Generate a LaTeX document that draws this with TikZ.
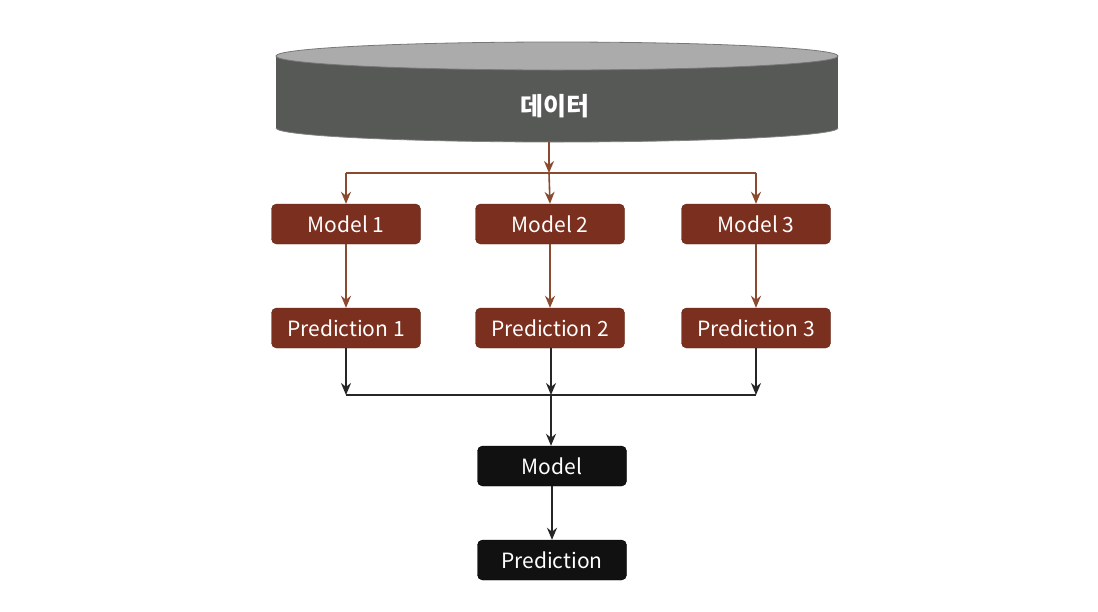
\documentclass[tikz,border=0pt]{standalone}
\usepackage{fontspec}
\setmainfont{Noto Sans CJK KR}
\usetikzlibrary{arrows.meta}
\definecolor{boxbrown}{HTML}{7B2F1E}
\definecolor{arrbrown}{HTML}{8A4A30}
\definecolor{cylside}{HTML}{575957}
\definecolor{cyltop}{HTML}{ABABAB}
\definecolor{boxblack}{HTML}{111111}
\tikzset{
  brownbox/.style={draw=boxbrown!80!black, fill=boxbrown, rounded corners=5pt, minimum width=149pt, minimum height=40pt, text=white, font=\fontsize{21}{24}\selectfont, inner sep=0pt},
  blackbox/.style={draw=black, fill=boxblack, rounded corners=5pt, minimum width=149pt, minimum height=40pt, text=white, font=\fontsize{21}{24}\selectfont, inner sep=0pt},
  brarrow/.style={draw=arrbrown, line width=1.6pt, -{Stealth[length=12pt,width=10pt]}},
  brline/.style={draw=arrbrown, line width=1.6pt},
  bkarrow/.style={draw=black!85, line width=1.6pt, -{Stealth[length=12pt,width=10pt]}},
  bkline/.style={draw=black!85, line width=1.6pt}
}
\begin{document}
\begin{tikzpicture}[x=1pt,y=-1pt]
\path[use as bounding box, fill=white] (0,0) rectangle (1098,611);
% cylinder
\fill[cylside] (276,56) rectangle (838,128);
\fill[cylside] (557,128) ellipse [x radius=281, y radius=14];
\draw[cylside!75!white, line width=0.8pt] (276,128) arc[start angle=180, end angle=0, x radius=281, y radius=14];
\draw[cyltop!70!black, fill=cyltop, line width=0.8pt] (557,56) ellipse [x radius=281, y radius=14];
\node[text=white, font=\fontsize{25}{28}\selectfont\bfseries] (data) at (555,106) {데이터};
\coordinate (cylb) at (549,142);
\coordinate (split) at (549,173);
\coordinate (sl) at (346,173);
\coordinate (sr) at (756,173);
% boxes
\node[brownbox] (m1) at (346,224) {Model 1};
\node[brownbox] (m2) at (550,224) {Model 2};
\node[brownbox] (m3) at (756,224) {Model 3};
\node[brownbox] (p1) at (346,328) {Prediction 1};
\node[brownbox] (p2) at (550,328) {Prediction 2};
\node[brownbox] (p3) at (756,328) {Prediction 3};
\node[blackbox] (m) at (552,466) {Model};
\node[blackbox] (p) at (552,560) {Prediction};
\coordinate (jl) at (346,395);
\coordinate (jm) at (551,395);
\coordinate (jr) at (756,395);
% brown connectors
\draw[brarrow] (cylb) -- (split);
\draw[brline] (sl) -- (sr);
\draw[brarrow] (sl) -- (m1.north);
\draw[brarrow] (split) -- (m2.north);
\draw[brarrow] (sr) -- (m3.north);
\draw[brarrow] (m1) -- (p1);
\draw[brarrow] (m2) -- (p2);
\draw[brarrow] (m3) -- (p3);
% black connectors
\draw[bkarrow] (p1.south) -- (jl);
\draw[bkarrow] (p2.south -| jm) -- (jm);
\draw[bkarrow] (p3.south) -- (jr);
\draw[bkline] (jl) -- (jr);
\draw[bkarrow] (jm) -- (jm |- m.north);
\draw[bkarrow] (m) -- (p);
\end{tikzpicture}
\end{document}
